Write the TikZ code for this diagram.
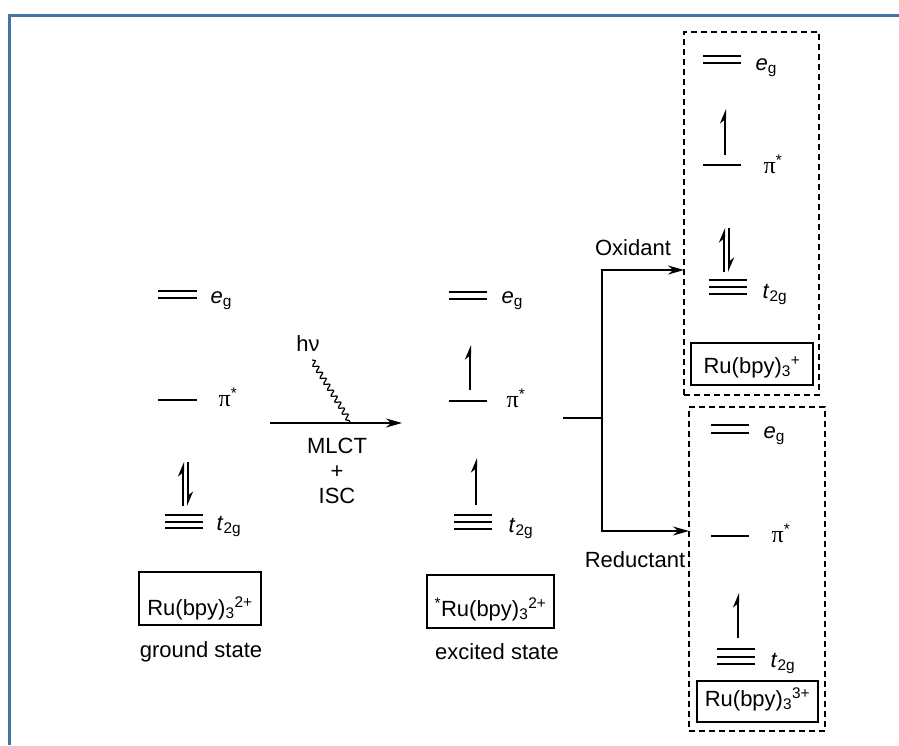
\documentclass[tikz,border=0pt]{standalone}
\usepackage{fontspec}
\setmainfont{Liberation Sans}
\newfontfamily\greekfont{Liberation Serif}
\usetikzlibrary{
    arrows.meta,
    decorations.pathmorphing
}
\definecolor{framebl}{RGB}{69,114,167}
\newcommand{\eg}{\textit{e}\textsubscript{g}}
\newcommand{\tg}{\textit{t}\textsubscript{2g}}
\newcommand{\pistar}{{\greekfont\fontsize{24}{26}\selectfont π}\textsuperscript{*}}
\newcommand{\rubpy}{Ru(bpy)\textsubscript{3}}
\tikzset{
  every path/.style={
    black,
    line width=1.3pt
  },
  every node/.style={
    font=\fontsize{22}{26}\selectfont,
    inner sep=0pt
  },
  level/.style={line width=2pt},
  electron/.style={line width=2pt, -{Stealth[harpoon, length=12pt, width=10pt]}},
  rxn/.style={line width=2pt, -{Stealth[length=16pt, width=9pt]}},
  fbox/.style={draw, line width=1.2pt},
  dbox/.style={draw, line width=1.5pt, dash pattern=on 6pt off 4pt}
}

\begin{document}
\begin{tikzpicture}[x=1pt,y=-1pt]
    \useasboundingbox (0,0) rectangle (899,745);
    % 枠
    \draw[framebl, line width=3pt] (9.5,745) -- (9.5,15) -- (899,15);

    % 基底状態
    \draw[level] (158,291) -- (197,291);
    \draw[level] (158,298) -- (197,298);
    \draw[level] (158,400) -- (197,400);
    \draw[level] (165,515) -- (203,515);
    \draw[level] (165,522) -- (203,522);
    \draw[level] (165,528) -- (203,528);
    \draw[electron] (183,506) -- (183,462);
    \draw[electron] (188,462) -- (188,506);
    \node[anchor=base west] (gseg) at (210,303) {\eg};
    \node[anchor=base west] (gspi) at (218,406) {\pistar};
    \node[anchor=base west] (gstg) at (216,530) {\tg};
    \node[fbox, anchor=base, minimum width=122pt, text height=43pt, text depth=10pt] (gsbox) at (200,615) {\rubpy\textsuperscript{2+}};
    \node[anchor=base] (gstext) at (201,657) {ground state};

    % 励起
    \coordinate (mlcta) at (270,423);
    \coordinate (mlctb) at (402,423);
    \draw[rxn] (mlcta) -- (mlctb);
    \node[anchor=base] (hv) at (308,351) {hν};
    \coordinate (wava) at (312,360);
    \coordinate (wavb) at (350,422);
    \draw[line width=1.2pt, decorate, decoration={snake, amplitude=2.5pt, segment length=7pt}] (wava) -- (wavb);
    \node[anchor=base] (mlct) at (337,453) {MLCT};
    \node[anchor=base] (plus) at (337,478) {+};
    \node[anchor=base] (isc) at (337,503) {ISC};

    % 励起状態
    \draw[level] (449,292) -- (487,292);
    \draw[level] (449,299) -- (487,299);
    \draw[level] (449,401) -- (487,401);
    \draw[level] (454,515) -- (492,515);
    \draw[level] (454,522) -- (492,522);
    \draw[level] (454,529) -- (492,529);
    \draw[electron] (470,390) -- (470,345);
    \draw[electron] (476,505) -- (476,458);
    \node[anchor=base west] (eseg) at (501,303) {\eg};
    \node[anchor=base west] (espi) at (506,407) {\pistar};
    \node[anchor=base west] (estg) at (508,532) {\tg};
    \node[fbox, anchor=base, minimum width=127pt, text height=41pt, text depth=12pt] (esbox) at (490.5,616) {\textsuperscript{*}\rubpy\textsuperscript{2+}};
    \node[anchor=base] (estext) at (497,659) {excited state};

    % 分岐
    \coordinate (br) at (563,418);
    \coordinate (split) at (602,418);
    \coordinate (oxin) at (684,270);
    \coordinate (redin) at (689,531);
    \draw (br) -- (split);
    \draw[rxn, line width=1.6pt] (split) |- (oxin);
    \draw[rxn, line width=1.6pt] (split) |- (redin);
    \node[anchor=base] (ox) at (633,255) {Oxidant};
    \node[anchor=base] (red) at (635,567) {Reductant};

    % 酸化
    \node[dbox, minimum width=135pt, minimum height=363pt] (oxbox) at (751.5,213.5) {};
    \draw[level] (703,56) -- (741,56);
    \draw[level] (703,63) -- (741,63);
    \draw[level] (703,165) -- (741,165);
    \draw[level] (709,280) -- (747,280);
    \draw[level] (709,287) -- (747,287);
    \draw[level] (709,294) -- (747,294);
    \draw[electron] (725,155) -- (725,109);
    \draw[electron] (724,272) -- (724,228);
    \draw[electron] (729,228) -- (729,272);
    \node[anchor=base west] (oxeg) at (755,70) {\eg};
    \node[anchor=base west] (oxpi) at (763,173) {\pistar};
    \node[anchor=base west] (oxtg) at (762,298) {\tg};
    \node[fbox, anchor=base, minimum width=122pt, text height=30pt, text depth=12pt] (oxfbox) at (752,373) {\rubpy\textsuperscript{+}};

    % 還元
    \node[dbox, minimum width=136pt, minimum height=324pt] (redbox) at (757,569) {};
    \draw[level] (711,425) -- (749,425);
    \draw[level] (711,433) -- (749,433);
    \draw[level] (711,536) -- (749,536);
    \draw[level] (717,649) -- (755,649);
    \draw[level] (717,657) -- (755,657);
    \draw[level] (717,664) -- (755,664);
    \draw[electron] (738,638) -- (738,593);
    \node[anchor=base west] (redeg) at (763,438) {\eg};
    \node[anchor=base west] (redpi) at (771,542) {\pistar};
    \node[anchor=base west] (redtg) at (770,667) {\tg};
    \node[fbox, anchor=base, minimum width=121pt, text height=25pt, text depth=16pt] (redfbox) at (757.5,706) {\rubpy\textsuperscript{3+}};
\end{tikzpicture}
\end{document}
